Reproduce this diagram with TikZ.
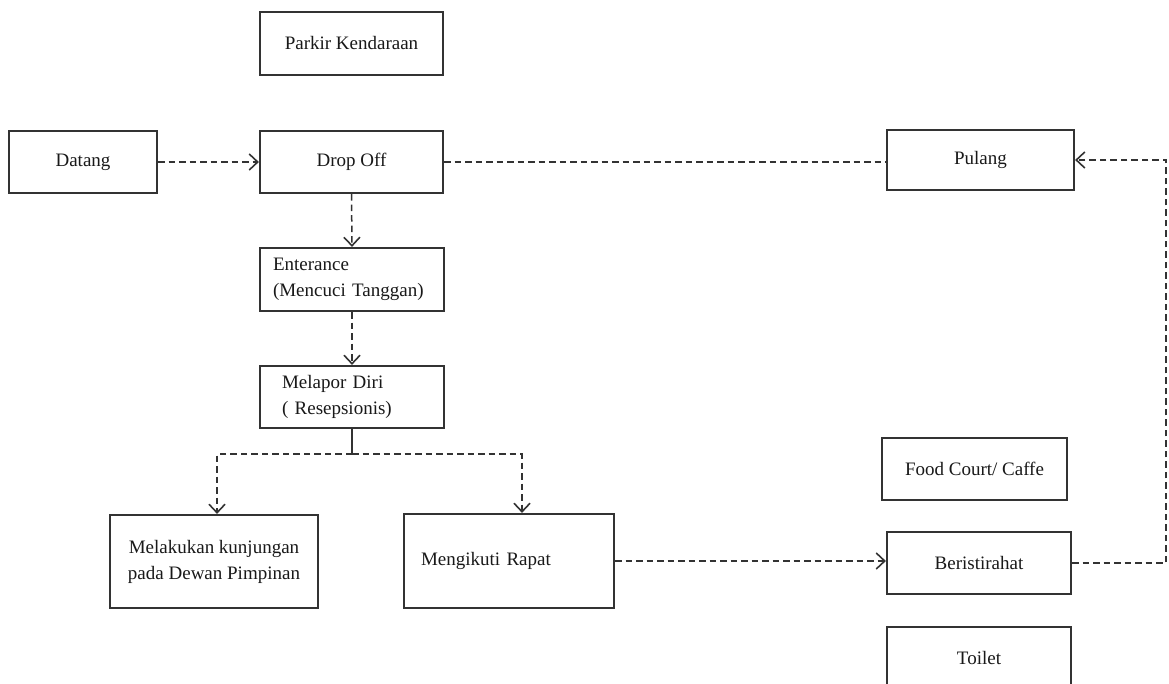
\documentclass[tikz,border=0pt]{standalone}
\usepackage{fontspec}
\setmainfont{Liberation Serif}
\usetikzlibrary{arrows.meta,calc}

\begin{document}
\begin{tikzpicture}[x=1pt,y=-1pt,
  box/.style={draw=black!80, line width=2.2pt, fill=white, inner sep=0pt,
    font=\fontsize{19}{26}\selectfont, text=black!90},
  flow/.style={draw=black!80, line width=1.5pt, dash pattern=on 6.5pt off 4pt},
  flowarrow/.style={flow, -{Straight Barb[length=8.5pt,width=16pt,line width=1.6pt]}},
]
\useasboundingbox (0,0) rectangle (1169,684);

% entry and parking
\node[box, minimum width=183pt, minimum height=63pt] (park) at (351.5,43.5) {Parkir Kendaraan};
\node[box, minimum width=148pt, minimum height=62pt] (datang) at (83,162) {Datang};
\node[box, minimum width=183pt, minimum height=62pt] (drop) at (351.5,162) {Drop Off};
\node[box, minimum width=187pt, minimum height=60pt] (pulang) at (980.5,160) {Pulang};

% main vertical sequence
\node[box, minimum width=184pt, minimum height=63pt, text width=158pt, align=left]
  (ent) at (352,279.5) {Enterance\\(Mencuci Tanggan)};
\node[box, minimum width=184pt, minimum height=62pt, text width=140pt, align=left]
  (lapor) at (352,397) {Melapor Diri\\( Resepsionis)};

% destinations
\node[box, minimum width=208pt, minimum height=93pt, align=center]
  (kunj) at (214,561.5) {Melakukan kunjungan\\pada Dewan Pimpinan};
\node[box, minimum width=210pt, minimum height=94pt, text width=176pt, align=left]
  (rapat) at (509,561) {Mengikuti Rapat};

% facilities on the right
\node[box, minimum width=185pt, minimum height=62pt] (food) at (974.5,469) {Food Court/ Caffe};
\node[box, minimum width=184pt, minimum height=62pt] (istir) at (979,563) {Beristirahat};
\node[box, minimum width=184pt, minimum height=62pt] (toilet) at (979,658) {Toilet};

% connectors
\draw[flowarrow] (datang.east) -- (drop.west);
\draw[flow] (drop.east) -- (drop.east -| pulang.west);
\draw[flowarrow] (drop.south) -- (ent.north);
\draw[flowarrow] (ent.south) -- (lapor.north);

\coordinate (split) at (352,454);
\draw[draw=black!80, line width=1.8pt] (lapor.south) -- (split);
\draw[flowarrow] (split) -| ([xshift=3pt]kunj.north);
\draw[flowarrow] (split) -| ([xshift=13pt]rapat.north);

\draw[flowarrow] (rapat.east) -- (rapat.east -| istir.west);
\coordinate (loop) at (1166,0);
\draw[flowarrow] (istir.east) -| (loop |- pulang.east) -- (pulang.east);
\end{tikzpicture}
\end{document}
